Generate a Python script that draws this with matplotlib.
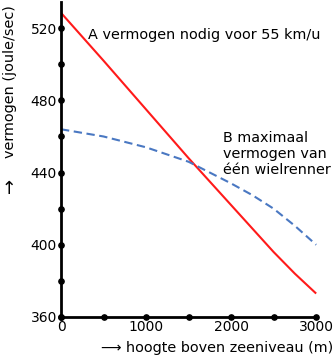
import matplotlib
matplotlib.use("Agg")
import matplotlib.pyplot as plt

# Data
hoogte_A = [0, 500, 1000, 1500, 2000, 2250, 2500, 2750, 3000]
vermogen_A = [528.5, 502, 475, 448, 422, 409, 396, 384, 373]
hoogte_B = [0, 500, 1000, 1500, 2000, 2250, 2500, 2750, 3000]
vermogen_B = [464, 460, 454, 446, 434, 427.5, 420, 410.5, 400]

y_major = [360, 400, 440, 480, 520]
y_dots = [360, 380, 400, 420, 440, 460, 480, 500, 520]
x_major = [0, 1000, 2000, 3000]
x_dots = [0, 500, 1000, 1500, 2000, 2500, 3000]

label_A = "A vermogen nodig voor 55 km/u"
label_B = "B maximaal\nvermogen van\néén wielrenner"

W, H = 335, 358
fig = plt.figure(figsize=(W / 100, H / 100), dpi=100)
ax = fig.add_axes([61 / W, 41 / H, 256 / W, 315 / H])

ax.plot(hoogte_A, vermogen_A, color="#ff1a1a", lw=1.5, solid_capstyle="butt",
        solid_joinstyle="round")
ax.plot(hoogte_B, vermogen_B, color="#4a78c2", lw=1.5, dashes=(4, 2.2))

ax.set_xlim(0, 3010)
ax.set_ylim(360, 534.5)

for s in ["top", "right"]:
    ax.spines[s].set_visible(False)
for s in ["left", "bottom"]:
    ax.spines[s].set_linewidth(2)
    ax.spines[s].set_color("black")

ax.plot([0] * len(y_dots), y_dots, "o", color="black", ms=3.8, clip_on=False, zorder=5)
ax.plot(x_dots, [360] * len(x_dots), "o", color="black", ms=3.8, clip_on=False, zorder=5)

ax.set_yticks(y_major)
ax.set_yticklabels([str(v) for v in y_major], fontsize=10)
ax.set_xticks(x_major)
ax.set_xticklabels([str(v) for v in x_major], fontsize=10)
ax.tick_params(axis="y", length=0, pad=3)
ax.tick_params(axis="x", length=0, pad=2.5)

fs = 10.4
fig.text(88 / W, 1 - 35 / H, label_A, fontsize=fs, ha="left", va="center")
fig.text(223 / W, 1 - 154 / H, label_B, fontsize=fs, ha="left", va="center",
         linespacing=1.2)

fig.text(10 / W, 1 - 82 / H, "vermogen (joule/sec)", fontsize=fs, rotation=90,
         ha="center", va="center")
fig.text(10 / W, 1 - 185 / H, "\u2192", fontsize=13, rotation=90,
         ha="center", va="center")
fig.text(111 / W, 1 - 348 / H, "\u27f6", fontsize=fs, ha="center", va="center")
fig.text(126 / W, 1 - 348 / H, "hoogte boven zeeniveau (m)", fontsize=fs,
         ha="left", va="center")

fig.savefig("out.png", dpi=100)
